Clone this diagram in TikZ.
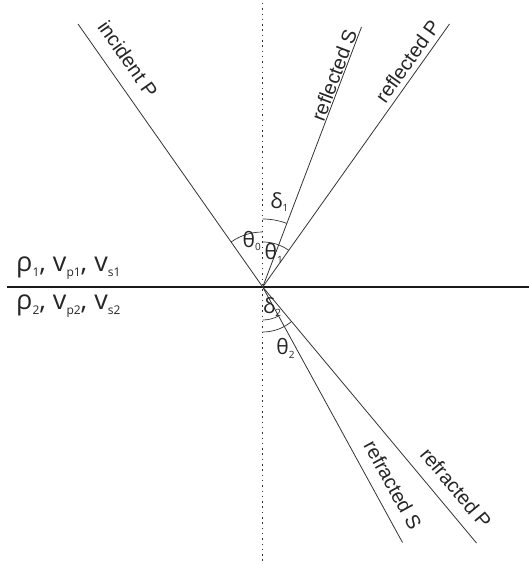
\documentclass[tikz,border=0pt]{standalone}
\usepackage{fontspec}
\setmainfont{Liberation Sans}
\newfontfamily\grk{Open Sans}
\newcommand\mysub[1]{\raisebox{-3.5pt}{\fontsize{10}{10}\selectfont #1}}
\newcommand\medsub[1]{\raisebox{-5pt}{\fontsize{12}{12}\selectfont #1}}
\begin{document}
\begin{tikzpicture}[x=1pt,y=1pt,
  ray/.style={draw=black!80, line width=0.8pt},
  angarc/.style={draw=black!80, line width=0.7pt},
  raylbl/.style={font=\fontsize{20}{22}\selectfont, text=black!85, inner sep=0pt},
  anglbl/.style={font=\grk\fontsize{21}{22}\selectfont, text=black!85, inner sep=0pt, anchor=base west},
  medlbl/.style={font=\grk\fontsize{27}{28}\selectfont, text=black!85, inner sep=0pt, anchor=base west}]
\useasboundingbox (0,0) rectangle (529,565);
\coordinate (O) at (262.7,278);
\coordinate (vt) at (262.7,562);
\coordinate (vb) at (262.7,3);
\coordinate (hl) at (7,278);
\coordinate (hr) at (529,278);
\coordinate (inc) at (78,541);
\coordinate (rS) at (361.5,538);
\coordinate (rP) at (449.5,541);
\coordinate (tS) at (402.5,22.5);
\coordinate (tP) at (476.5,22);
% normal and interface
\draw[black!80, line width=0.8pt, dash pattern=on 1.5pt off 3.8pt] (vt) -- (vb);
\draw[black!90, line width=1.3pt] (hl) -- (hr);
% rays
\draw[ray] (inc) -- (O);
\draw[ray] (O) -- (rS);
\draw[ray] (O) -- (rP);
\draw[ray] (O) -- (tS);
\draw[ray] (O) -- (tP);
% angle arcs
\draw[angarc] ([shift={(90:55)}]O) arc[start angle=90, end angle=125.1, radius=55];
\draw[angarc] ([shift={(90:45)}]O) arc[start angle=90, end angle=54.6, radius=45];
\draw[angarc] ([shift={(90:68)}]O) arc[start angle=90, end angle=69.3, radius=68];
\draw[angarc] ([shift={(-90:33)}]O) arc[start angle=-90, end angle=-61.3, radius=33];
\draw[angarc] ([shift={(-90:45)}]O) arc[start angle=-90, end angle=-50.1, radius=45];
% angle labels
\node[anglbl] (th0) at (242.5,317.7) {θ\mysub{0}};
\node[anglbl] (th1) at (264.5,305) {θ\mysub{1}};
\node[anglbl] (de1) at (270.2,356.7) {δ\mysub{1}};
\node[anglbl] (de2) at (263,251.7) {δ\mysub{2}};
\node[anglbl] (th2) at (276.2,210) {θ\mysub{2}};
% ray labels
\node[raylbl, rotate=-54.9] (linc) at (128,506) {incident P};
\node[raylbl, rotate=69.3] (lrS) at (334,490) {reflected S};
\node[raylbl, rotate=54.6] (lrP) at (407.5,504) {reflected P};
\node[raylbl, rotate=-61.3] (ltS) at (393,80) {refracted S};
\node[raylbl, rotate=-50.1] (ltP) at (456,77) {refracted P};
% media labels
\node[medlbl] (m1) at (16,293) {ρ\medsub{1}, v\medsub{p1}, v\medsub{s1}};
\node[medlbl] (m2) at (16,255) {ρ\medsub{2}, v\medsub{p2}, v\medsub{s2}};
\end{tikzpicture}
\end{document}
